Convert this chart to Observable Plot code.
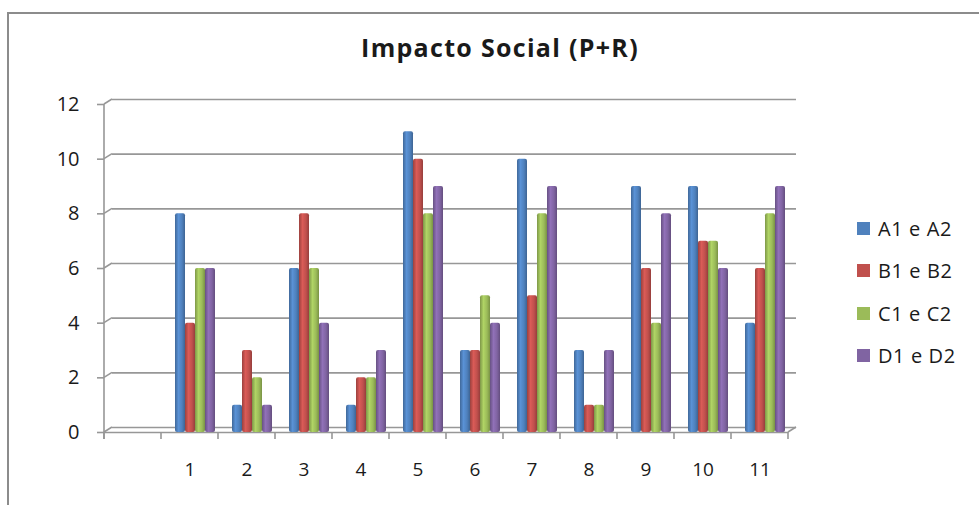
<!DOCTYPE html>
<html><head><meta charset="utf-8">
<script src="https://cdn.jsdelivr.net/npm/d3@7"></script>
<script src="https://cdn.jsdelivr.net/npm/@observablehq/plot@0.6"></script>
<style>
body{margin:0;background:#fff;}
#wrap{position:relative;width:979px;height:505px;overflow:hidden;font-family:"Open Sans",sans-serif;color:#1a1a1a;}
#border{position:absolute;left:7px;top:12px;width:1100px;height:700px;border:2px solid #8c8c8c;box-sizing:border-box;}
#title{position:absolute;left:0;top:32px;width:1000px;text-align:center;font-weight:bold;font-size:25px;letter-spacing:1.3px;line-height:30px;}
#chart{position:absolute;left:0;top:0;}
#legend{position:absolute;left:857px;top:207px;font-size:20px;letter-spacing:0.6px;}
.li{height:42.5px;display:flex;align-items:center;}
.sw{width:13px;height:13px;margin-right:8px;}
</style></head>
<body>
<svg width="0" height="0" style="position:absolute">
<defs id="grads"></defs>
</svg>
<div id="wrap">
<div id="border"></div>
<div id="title">Impacto Social (P+R)</div>
<div id="chart"></div>
<div id="legend"></div>
</div>
<script>
const categories = ["", "1", "2", "3", "4", "5", "6", "7", "8", "9", "10", "11"];
const series = ["A1 e A2", "B1 e B2", "C1 e C2", "D1 e D2"];
const colors = ["#4F81BD", "#C0504D", "#9BBB59", "#8064A2"];
const valuesA = [null, 8, 1, 6, 1, 11, 3, 10, 3, 9, 9, 4];
const valuesB = [null, 4, 3, 8, 2, 10, 3, 5, 1, 6, 7, 6];
const valuesC = [null, 6, 2, 6, 2, 8, 5, 8, 1, 4, 7, 8];
const valuesD = [null, 6, 1, 4, 3, 9, 4, 9, 3, 8, 6, 9];
const yTicks = [0, 2, 4, 6, 8, 10, 12];

const allValues = [valuesA, valuesB, valuesC, valuesD];
const data = [];
categories.forEach((c, i) => {
  series.forEach((s, j) => {
    data.push({cat: c, series: s, value: allValues[j][i], si: j});
  });
});

// cylinder-like gradients
const defs = d3.select("#grads");
colors.forEach((col, j) => {
  const base = d3.color(col);
  const g = defs.append("linearGradient").attr("id", "g" + j).attr("x1", "0").attr("x2", "1").attr("y1", "0").attr("y2", "0");
  g.append("stop").attr("offset", "0%").attr("stop-color", base.darker(0.6));
  g.append("stop").attr("offset", "35%").attr("stop-color", base.brighter(0.35));
  g.append("stop").attr("offset", "70%").attr("stop-color", base);
  g.append("stop").attr("offset", "100%").attr("stop-color", base.darker(0.7));
});

const W = 979, H = 505, mL = 102, mR = 190, mT = 104, mB = 73;
const grid = "#979797";

const plot = Plot.plot({
  width: W, height: H,
  marginLeft: mL, marginRight: mR, marginTop: mT, marginBottom: mB,
  style: {fontFamily: "'Open Sans', sans-serif", fontSize: "19px", color: "#1a1a1a", background: "transparent"},
  fx: {domain: categories, padding: 0, axis: null, label: null},
  x: {domain: series, paddingInner: 0, paddingOuter: 0.79, axis: null},
  y: {domain: [0, 12], axis: null},
  color: {type: "identity"},
  marks: [
    Plot.ruleY(yTicks, {dx: 8, dy: -5, stroke: grid, strokeWidth: 1.6}),
    Plot.ruleY([0], {stroke: grid, strokeWidth: 1.6}),
    Plot.barY(data, {fx: "cat", x: "series", y: "value", fill: d => "url(#g" + d.si + ")", inset: 0, dx: 5, ry: 2}),
    Plot.axisY({ticks: yTicks, tickSize: 7, tickPadding: 18, stroke: grid, strokeWidth: 1.6, fontSize: 20, fill: "#1a1a1a", label: null}),
    Plot.axisFx({anchor: "bottom", tickSize: 0, tickPadding: 30, fontSize: 19, fill: "#1a1a1a", label: null})
  ]
});
document.getElementById("chart").appendChild(plot);

// axis line, boundary ticks and 3D connectors, positioned from Plot's scales
const fx = plot.scale("fx"), y = plot.scale("y");
const svg = d3.select(plot);
const bw = fx.bandwidth != null ? fx.bandwidth : (fx.range[1] - fx.range[0]) / categories.length;
const x0 = fx.apply(categories[0]);
const x1 = fx.apply(categories[categories.length - 1]) + bw;
const yb = y.apply(0), yt = y.apply(12);
const gA = svg.append("g").attr("stroke", grid).attr("stroke-width", 1.6).attr("fill", "none");
gA.append("line").attr("x1", x0).attr("x2", x0).attr("y1", yt).attr("y2", yb + 7);
categories.forEach((c, i) => {
  const xx = fx.apply(c);
  gA.append("line").attr("x1", xx).attr("x2", xx).attr("y1", yb).attr("y2", yb + 7);
});
gA.append("line").attr("x1", x1).attr("x2", x1).attr("y1", yb).attr("y2", yb + 7);
yTicks.forEach(t => {
  gA.append("line").attr("x1", x0).attr("x2", x0 + 8).attr("y1", y.apply(t)).attr("y2", y.apply(t) - 5);
});
gA.append("line").attr("x1", x1).attr("x2", x1 + 8).attr("y1", yb).attr("y2", yb - 5);

// legend
const leg = d3.select("#legend");
series.forEach((s, j) => {
  const r = leg.append("div").attr("class", "li");
  r.append("div").attr("class", "sw").style("background", colors[j]);
  r.append("span").text(s);
});
</script>
</body></html>
